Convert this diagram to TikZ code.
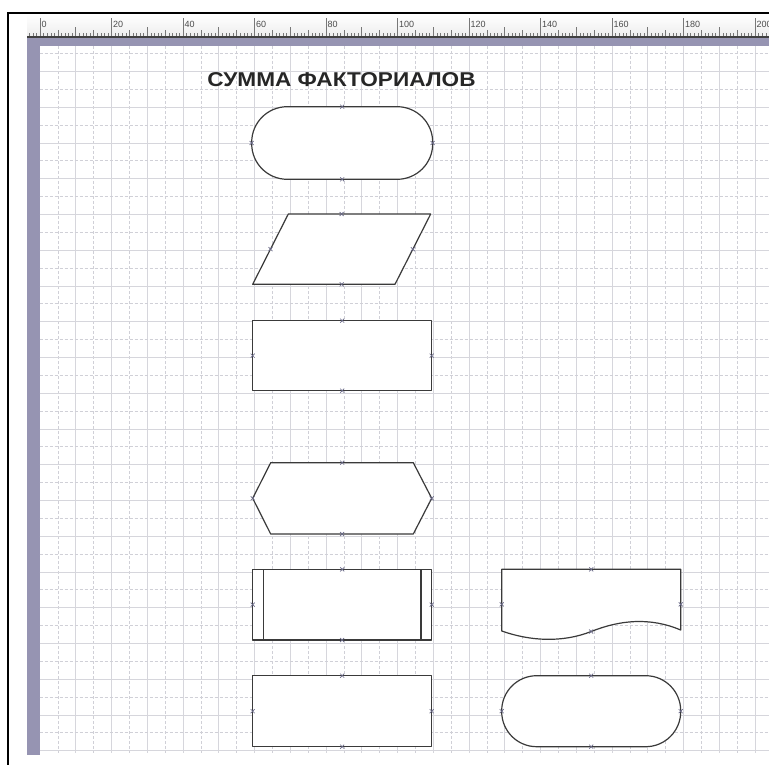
\documentclass[tikz,border=0pt]{standalone}
\usepackage{fontspec}
\setmainfont{Liberation Sans}
\definecolor{shapeline}{RGB}{58,58,58}
\definecolor{bandc}{RGB}{150,148,178}
\definecolor{gridc}{RGB}{214,214,220}
\definecolor{gridd}{RGB}{208,208,215}
\definecolor{markc}{RGB}{105,105,135}
\definecolor{rulerc}{RGB}{120,120,120}
\tikzset{
  fshape/.style={draw=shapeline,line width=1.2pt,fill=white,line join=round},
  gridsolid/.style={draw=gridc,line width=0.7pt},
  griddash/.style={draw=gridd,line width=0.6pt,dash pattern=on 3pt off 2pt},
  cp/.pic={\draw[markc,line width=0.7pt] (-2,-2)--(2,2) (-2,2)--(2,-2);},
  rulernum/.style={font=\fontsize{9}{9}\selectfont,text=black!70,inner sep=0pt,anchor=south west}
}
\begin{document}
\begin{tikzpicture}[x=1pt,y=-1pt]
\useasboundingbox (0,0) rectangle (769,765);
\fill[white] (0,0) rectangle (769,765);
% ruler
\shade[top color=white,bottom color=gray!14] (27,14) rectangle (769,37);
\foreach \m in {-3,...,204}{
  \pgfmathsetmacro\xx{40+3.575*\m}
  \pgfmathtruncatemacro\rA{mod(\m+100,20)}
  \pgfmathtruncatemacro\rB{mod(\m+100,10)}
  \pgfmathtruncatemacro\rC{mod(\m+100,5)}
  \ifnum\rA=0 \draw[rulerc,line width=0.6pt] (\xx,37) -- (\xx,18);
  \else\ifnum\rB=0 \draw[rulerc,line width=0.6pt] (\xx,37) -- (\xx,27);
  \else\ifnum\rC=0 \draw[rulerc,line width=0.5pt] (\xx,37) -- (\xx,30);
  \else \draw[rulerc,line width=0.4pt] (\xx,37) -- (\xx,33);
  \fi\fi\fi
}
\foreach \n in {0,20,...,200}{
  \node[rulernum] (r\n) at ({40+3.575*\n+1.5},27.5) {\n};
}
% bands
\fill[bandc] (27,37) rectangle (769,46);
\fill[bandc] (27,37) rectangle (39.5,755);
\draw[black!75,line width=1.2pt] (27,37) -- (769,37);
% page
\fill[white] (39.5,46) rectangle (769,753);
\begin{scope}
\clip (39.5,46) rectangle (769,753);
\foreach \k in {1,...,41}{
  \pgfmathsetmacro\xx{40+17.875*\k}
  \ifodd\k \draw[griddash] (\xx,46) -- (\xx,753);
  \else \draw[gridsolid] (\xx,46) -- (\xx,753);
  \fi
}
\foreach \k in {0,...,39}{
  \pgfmathsetmacro\yy{53.5+17.875*\k}
  \ifodd\k \draw[gridsolid] (39.5,\yy) -- (769,\yy);
  \else \draw[griddash] (39.5,\yy) -- (769,\yy);
  \fi
}
\end{scope}
% outer black frame
\draw[black,line width=2pt] (769,13.5) -- (8,13.5) -- (8,765);
% title
\node[font=\bfseries\fontsize{20}{20}\selectfont,text=black!85,anchor=base,inner sep=0pt,xscale=1.13] (title) at (341.5,86.7) {СУММА ФАКТОРИАЛОВ};
% 1 terminator
\draw[fshape,rounded corners=35.5pt] (251.7,106.7) rectangle (432.7,179.3);
\path (342.2,106.7) pic{cp} (342.2,179.3) pic{cp} (251.7,143) pic{cp} (432.7,143) pic{cp};
% 2 data
\draw[fshape] (288.3,214) -- (430.7,214) -- (395,284.3) -- (252.7,284.3) -- cycle;
\path (341.7,214) pic{cp} (341.7,284.3) pic{cp} (270.5,249.2) pic{cp} (412.9,249.2) pic{cp};
% 3 process
\draw[fshape] (252.7,320.7) rectangle (431.7,390.7);
\path (342.2,320.7) pic{cp} (342.2,390.7) pic{cp} (252.7,355.7) pic{cp} (431.7,355.7) pic{cp};
% 4 preparation
\draw[fshape] (270.7,462.7) -- (413.3,462.7) -- (431.7,498.3) -- (413.3,534) -- (270.7,534) -- (252.7,498.3) -- cycle;
\path (342.2,462.7) pic{cp} (342.2,534) pic{cp} (252.7,498.3) pic{cp} (431.7,498.3) pic{cp};
% 5 predefined process
\draw[fshape] (252.7,569.3) rectangle (431.7,640);
\draw[shapeline,line width=1.2pt] (263.3,569.3) -- (263.3,640) (420.9,569.3) -- (420.9,640);
\path (342.2,569.3) pic{cp} (342.2,640) pic{cp} (252.7,604.6) pic{cp} (431.7,604.6) pic{cp};
% 6 process
\draw[fshape] (252.7,675.7) rectangle (431.7,746.7);
\path (342.2,675.7) pic{cp} (342.2,746.7) pic{cp} (252.7,711.2) pic{cp} (431.7,711.2) pic{cp};
% 7 document
\draw[fshape] (501.7,631) -- (501.7,569.3) -- (680.7,569.3) -- (680.7,630)
  .. controls (650,617) and (620,620) .. (591.2,631.5)
  .. controls (562,643) and (530,641) .. (501.7,631) -- cycle;
\path (591.2,569.3) pic{cp} (591.2,631.5) pic{cp} (501.7,604.3) pic{cp} (680.7,604.3) pic{cp};
% 8 terminator
\draw[fshape,rounded corners=35pt] (501.7,675.7) rectangle (680.7,746.7);
\path (591.2,675.7) pic{cp} (591.2,746.7) pic{cp} (501.7,711.2) pic{cp} (680.7,711.2) pic{cp};
\end{tikzpicture}
\end{document}
